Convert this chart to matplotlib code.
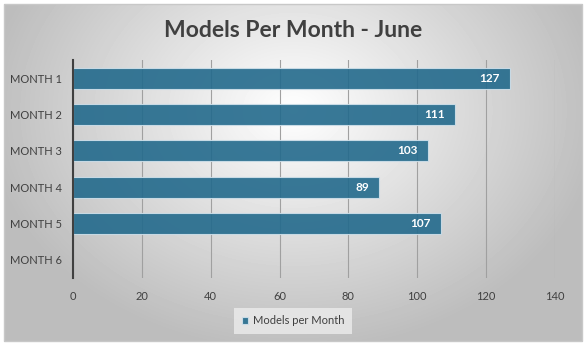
import numpy as np
import matplotlib.pyplot as plt
from matplotlib.patches import Rectangle

# Data
months = ['MONTH 1', 'MONTH 2', 'MONTH 3', 'MONTH 4', 'MONTH 5', 'MONTH 6']
models = [127, 111, 103, 89, 107, 0]
x_ticks = [0, 20, 40, 60, 80, 100, 120, 140]

plt.rcParams['font.family'] = ['Lato', 'DejaVu Sans']

fig = plt.figure(figsize=(5.86, 3.49), dpi=100)

# Radial grey background inside a thin frame
bg = fig.add_axes([0, 0, 1, 1], zorder=-1)
yy, xx = np.mgrid[0:349, 0:586]
r = np.sqrt(((xx - 293) / 320.0) ** 2 + ((yy - 110) / 250.0) ** 2)
shade = np.clip(1.0 - 0.27 * r, 0.74, 1.0)
shade[:4, :] = 1.0
shade[342:, :] = 1.0
shade[:, :4] = 1.0
shade[:, 583:] = 1.0
bg.imshow(shade, cmap='gray', vmin=0, vmax=1, extent=[0, 586, 349, 0], aspect='auto')
bg.add_patch(Rectangle((4, 4), 578, 337, fill=False, edgecolor='#c8c8c8', lw=1))
bg.set_xlim(0, 586)
bg.set_ylim(349, 0)
bg.axis('off')

ax = fig.add_axes([73 / 586, 1 - 278 / 349, 482 / 586, 218 / 349])
ax.patch.set_alpha(0)

y = np.arange(len(months))
bars = ax.barh(y, models, height=0.58, color='#236a8c', alpha=0.9,
               edgecolor='#cfe0ea', linewidth=0.8, label='Models per Month', zorder=3)

for yi, v in zip(y, models):
    if v > 0:
        ax.text(v - 3, yi, str(v), color='white', fontweight='bold', fontsize=8.5,
                ha='right', va='center', zorder=4)

ax.set_xlim(0, 140)
ax.set_ylim(len(months) - 0.5, -0.5)
ax.set_xticks(x_ticks)
ax.set_yticks(y)
ax.set_yticklabels(months)
ax.tick_params(axis='both', length=0, labelsize=8, labelcolor='#404040')
ax.tick_params(axis='x', pad=9)
ax.tick_params(axis='y', pad=8)

ax.grid(axis='x', color='#a0a0a0', linewidth=0.8, zorder=1)
for s in ['top', 'right', 'bottom']:
    ax.spines[s].set_visible(False)
ax.spines['left'].set_color('#404040')
ax.spines['left'].set_linewidth(1.5)
ax.spines['left'].set_zorder(5)

fig.text(0.5, 0.912, 'Models Per Month - June', ha='center', va='center',
         fontsize=16.5, fontweight='bold', color='#404040')

leg = fig.legend(handles=[bars], loc='center', bbox_to_anchor=(0.5, 1 - 321 / 349),
                 fontsize=8, frameon=True, fancybox=False, handlelength=0.6,
                 handleheight=0.6, handletextpad=0.4, borderpad=0.7)
leg.get_frame().set_facecolor('#ececec')
leg.get_frame().set_edgecolor('none')
for t in leg.get_texts():
    t.set_color('#404040')

plt.savefig('out.png', dpi=100)
